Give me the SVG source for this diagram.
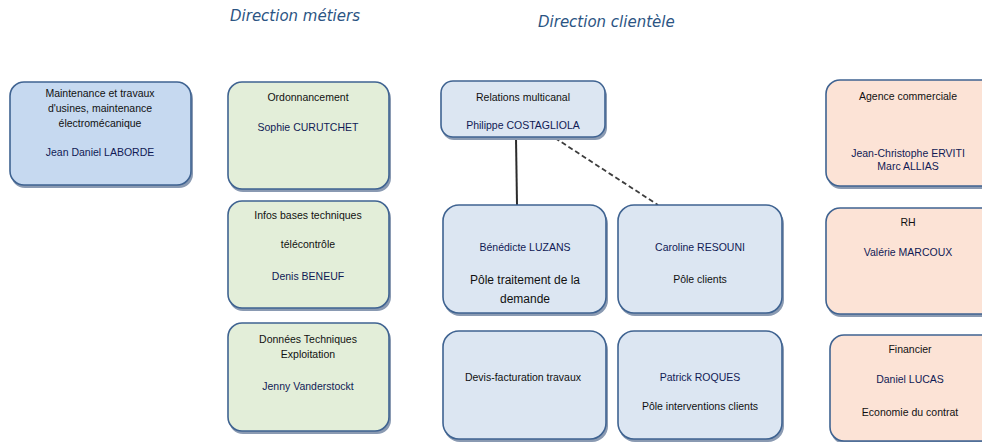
<svg xmlns="http://www.w3.org/2000/svg" width="982" height="442" viewBox="0 0 982 442">
  <style>
    .box { stroke: #3f6391; stroke-width: 1.6; }
    .shadow { fill: #8a9ab2; }
    .blue { fill: #c6d9f0; }
    .pale { fill: #dce6f2; }
    .green { fill: #e3eed9; }
    .rose { fill: #fce3d6; }
    text { font-family: "Liberation Sans", Arial, sans-serif; font-size: 10.5px; text-anchor: middle; fill: #111111; }
    .name { fill: #101a55; }
    .head { font-family: "DejaVu Sans", "Liberation Sans", sans-serif; font-style: italic; font-size: 15px; fill: #2b5483; text-anchor: start; }
    .big { font-size: 12px; }
    .link { fill: none; stroke: #2b2b2b; stroke-width: 2; }
    .dash { stroke-dasharray: 5 3; stroke-width: 1.8; stroke: #3d3d3d; }
  </style>
  <defs>
    <clipPath id="clip-traitement"><rect x="443" y="205" width="164" height="110"/></clipPath>
  </defs>

  <rect width="982" height="442" fill="#ffffff"/>

  <text class="head" x="230" y="21">Direction métiers</text>
  <text class="head" x="538" y="27">Direction clientèle</text>

  <g id="connectors">
    <path class="link" d="M516 138 L517 205"/>
    <path class="link dash" d="M555 138 L658 205"/>
  </g>

  <g id="maintenance">
    <rect class="shadow" x="11" y="85" width="182" height="103" rx="14"/>
    <rect class="box blue" x="10" y="82" width="181" height="103" rx="14"/>
    <text x="100" y="97">Maintenance et travaux</text>
    <text x="100" y="112">d'usines, maintenance</text>
    <text x="100" y="127">électromécanique</text>
    <text class="name" x="100" y="156">Jean Daniel LABORDE</text>
  </g>

  <g id="ordonnancement">
    <rect class="shadow" x="229" y="85" width="162" height="107" rx="14"/>
    <rect class="box green" x="228" y="82" width="161" height="107" rx="14"/>
    <text x="308" y="101">Ordonnancement</text>
    <text class="name" x="308" y="131">Sophie CURUTCHET</text>
  </g>

  <g id="infos-techniques">
    <rect class="shadow" x="229" y="204" width="162" height="107" rx="14"/>
    <rect class="box green" x="228" y="201" width="161" height="107" rx="14"/>
    <text x="308" y="219">Infos bases techniques</text>
    <text x="308" y="248">télécontrôle</text>
    <text class="name" x="308" y="280">Denis BENEUF</text>
  </g>

  <g id="donnees-techniques">
    <rect class="shadow" x="229" y="326" width="162" height="108" rx="14"/>
    <rect class="box green" x="228" y="323" width="161" height="108" rx="14"/>
    <text x="308" y="343">Données Techniques</text>
    <text x="308" y="358">Exploitation</text>
    <text class="name" x="308" y="390">Jenny Vanderstockt</text>
  </g>

  <g id="relations-multicanal">
    <rect class="shadow" x="442" y="84" width="165" height="56" rx="12"/>
    <rect class="box pale" x="441" y="81" width="164" height="56" rx="12"/>
    <text x="523" y="101">Relations multicanal</text>
    <text class="name" x="523" y="129">Philippe COSTAGLIOLA</text>
  </g>

  <g id="pole-traitement">
    <rect class="shadow" x="444" y="208" width="164" height="108" rx="16"/>
    <rect class="box pale" x="443" y="205" width="163" height="108" rx="16"/>
    <text class="name" x="525" y="251">Bénédicte LUZANS</text>
    <g clip-path="url(#clip-traitement)">
      <text class="big" x="525" y="284">Pôle traitement de la</text>
      <text class="big" x="525" y="303">demande</text>
    </g>
  </g>

  <g id="pole-clients">
    <rect class="shadow" x="619" y="208" width="165" height="108" rx="16"/>
    <rect class="box pale" x="618" y="205" width="164" height="108" rx="16"/>
    <text class="name" x="700" y="251">Caroline RESOUNI</text>
    <text x="700" y="283">Pôle clients</text>
  </g>

  <g id="devis-facturation">
    <rect class="shadow" x="444" y="334" width="164" height="108" rx="16"/>
    <rect class="box pale" x="443" y="331" width="163" height="108" rx="16"/>
    <text x="523" y="381">Devis-facturation travaux</text>
  </g>

  <g id="pole-interventions">
    <rect class="shadow" x="619" y="334" width="165" height="108" rx="16"/>
    <rect class="box pale" x="618" y="331" width="164" height="108" rx="16"/>
    <text class="name" x="700" y="381">Patrick ROQUES</text>
    <text x="700" y="410">Pôle interventions clients</text>
  </g>

  <g id="agence-commerciale">
    <rect class="shadow" x="827" y="83" width="170" height="106" rx="14"/>
    <rect class="box rose" x="826" y="80" width="170" height="106" rx="14"/>
    <text x="908" y="100">Agence commerciale</text>
    <text class="name" x="908" y="157">Jean-Christophe ERVITI</text>
    <text class="name" x="908" y="170">Marc ALLIAS</text>
  </g>

  <g id="rh">
    <rect class="shadow" x="827" y="211" width="170" height="106" rx="14"/>
    <rect class="box rose" x="826" y="208" width="170" height="106" rx="14"/>
    <text x="908" y="226">RH</text>
    <text class="name" x="908" y="256">Valérie MARCOUX</text>
  </g>

  <g id="financier">
    <rect class="shadow" x="831" y="338" width="166" height="106" rx="14"/>
    <rect class="box rose" x="830" y="335" width="166" height="106" rx="14"/>
    <text x="910" y="353">Financier</text>
    <text class="name" x="910" y="383">Daniel LUCAS</text>
    <text x="910" y="416">Economie du contrat</text>
  </g>
</svg>
